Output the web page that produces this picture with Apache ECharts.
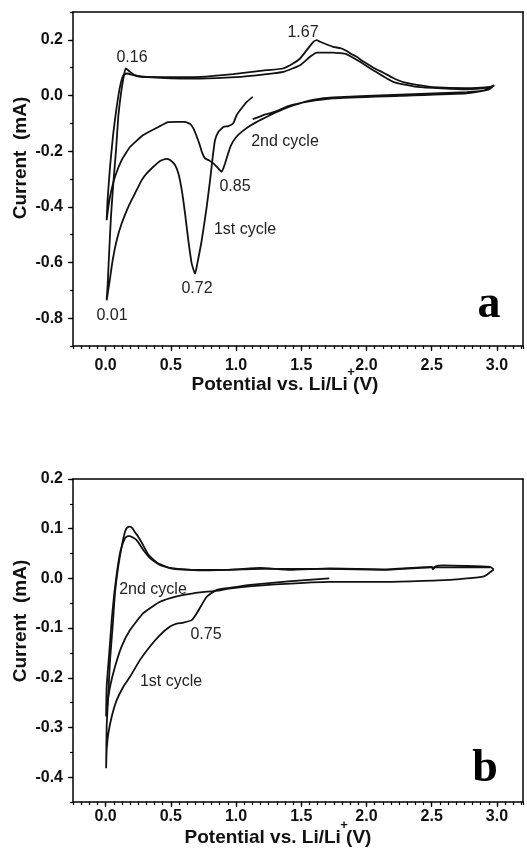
<!DOCTYPE html>
<html><head><meta charset="utf-8">
<script src="https://cdn.jsdelivr.net/npm/echarts@6/dist/echarts.min.js"></script>
<style>html,body{margin:0;padding:0;background:#fff}#c{width:527px;height:848px}</style>
</head><body><div id="c"></div>
<script>
// Panel a: potential (V), current (mA)
const cycleA1 = [[1.128,-0.005],[1.082,-0.023],[1.044,-0.045],[1.005,-0.070],[0.979,-0.100],[0.941,-0.110],[0.903,-0.113],[0.864,-0.131],[0.839,-0.160],[0.821,-0.221],[0.801,-0.304],[0.775,-0.400],[0.737,-0.520],[0.703,-0.604],[0.686,-0.640],[0.660,-0.604],[0.634,-0.520],[0.609,-0.424],[0.584,-0.340],[0.558,-0.280],[0.532,-0.250],[0.494,-0.232],[0.463,-0.228],[0.417,-0.235],[0.366,-0.256],[0.315,-0.280],[0.277,-0.304],[0.225,-0.352],[0.174,-0.400],[0.123,-0.460],[0.085,-0.520],[0.054,-0.592],[0.028,-0.676],[0.008,-0.736],
[0.016,-0.676],[0.028,-0.556],[0.041,-0.436],[0.059,-0.316],[0.080,-0.196],[0.097,-0.077],[0.118,0.008],[0.136,0.061],[0.154,0.097],[0.187,0.085],[0.225,0.073],[0.277,0.067],[0.5,0.066],[0.724,0.067],[0.977,0.077],[1.235,0.091],[1.360,0.097],[1.437,0.115],[1.491,0.133],[1.542,0.163],[1.593,0.193],[1.619,0.199],[1.644,0.193],[1.744,0.175],[1.80,0.170],[1.849,0.160],[1.88,0.150],[1.926,0.139],[1.96,0.127],[2.002,0.115],[2.06,0.098],[2.130,0.082],[2.2,0.064],[2.258,0.052],[2.3,0.046],[2.386,0.038],[2.511,0.030],[2.769,0.026],[2.933,0.030],[2.97,0.034]];
const cycleA2 = [[2.97,0.034],[2.90,0.018],[2.769,0.012],[2.258,0.003],[1.744,-0.007],[1.6,-0.015],[1.49,-0.028],[1.40,-0.042],[1.30,-0.062],[1.20,-0.085],[1.12,-0.105],[1.05,-0.128],[1.0,-0.15],[0.96,-0.18],[0.935,-0.215],[0.915,-0.245],[0.90,-0.265],[0.89,-0.274],[0.875,-0.268],[0.86,-0.260],[0.826,-0.244],[0.788,-0.232],[0.762,-0.226],[0.74,-0.205],[0.72,-0.175],[0.70,-0.149],[0.675,-0.12],[0.65,-0.103],[0.609,-0.095],[0.545,-0.095],[0.479,-0.096],[0.417,-0.110],[0.289,-0.142],[0.187,-0.185],[0.123,-0.232],[0.072,-0.292],[0.039,-0.352],[0.021,-0.400],[0.008,-0.448],
[0.015,-0.376],[0.034,-0.256],[0.059,-0.135],[0.085,-0.041],[0.110,0.031],[0.136,0.073],[0.162,0.079],[0.238,0.070],[0.5,0.062],[0.724,0.061],[1.0,0.066],[1.235,0.077],[1.363,0.085],[1.491,0.109],[1.567,0.139],[1.619,0.154],[1.744,0.154],[1.849,0.148],[1.951,0.121],[2.051,0.091],[2.204,0.049],[2.386,0.031],[2.769,0.022],[2.948,0.030],[2.98,0.037],
[2.93,0.020],[2.769,0.008],[2.258,-0.001],[1.744,-0.010],[1.55,-0.022],[1.40,-0.038],[1.30,-0.058],[1.20,-0.072],[1.128,-0.085]];
// Panel b
const cycleB1 = [[1.715,0.000],[1.40,-0.006],[1.109,-0.013],[0.95,-0.019],[0.852,-0.023],[0.775,-0.037],[0.699,-0.070],[0.660,-0.084],[0.596,-0.089],[0.545,-0.091],[0.494,-0.097],[0.417,-0.114],[0.340,-0.137],[0.264,-0.164],[0.187,-0.198],[0.136,-0.218],[0.085,-0.245],[0.047,-0.278],[0.021,-0.312],[0.008,-0.345],[0.004,-0.382],
[0.008,-0.298],[0.021,-0.231],[0.034,-0.164],[0.054,-0.097],[0.072,-0.029],[0.097,0.024],[0.123,0.064],[0.149,0.094],[0.165,0.102],[0.187,0.104],[0.205,0.101],[0.225,0.093],[0.250,0.084],[0.277,0.072],[0.327,0.048],[0.392,0.032],[0.494,0.021],[0.673,0.017],[0.929,0.017],[1.184,0.021],[1.414,0.017],[1.720,0.020],[2.130,0.018],[2.50,0.023],[2.51,0.018],[2.53,0.024],[2.590,0.026],[2.948,0.023],[2.975,0.018]];
const cycleB2 = [[2.975,0.018],[2.90,0.004],[2.641,-0.003],[2.130,-0.007],[1.72,-0.007],[1.3,-0.012],[1.1,-0.016],[0.93,-0.021],[0.877,-0.024],[0.673,-0.030],[0.545,-0.036],[0.417,-0.047],[0.289,-0.070],[0.187,-0.104],[0.123,-0.137],[0.072,-0.178],[0.034,-0.218],[0.015,-0.250],[0.004,-0.278],
[0.008,-0.218],[0.028,-0.150],[0.047,-0.083],[0.067,-0.029],[0.090,0.018],[0.116,0.057],[0.149,0.081],[0.170,0.085],[0.187,0.085],[0.238,0.077],[0.289,0.057],[0.340,0.041],[0.417,0.027],[0.519,0.019],[0.75,0.016],[1.2,0.019],[1.7,0.019],[2.13,0.017],[2.5,0.022],[2.95,0.022]];

const xTicks = [0, 0.5, 1.0, 1.5, 2.0, 2.5, 3.0];
const yTicksA = [-0.8, -0.6, -0.4, -0.2, 0.0, 0.2];
const yTicksB = [-0.4, -0.3, -0.2, -0.1, 0.0, 0.1, 0.2];

const SANS = 'Liberation Sans, Arial, sans-serif';
const lineC = '#000';
const tickLbl = {fontSize:16, fontWeight:'bold', fontFamily:SANS, color:'#111'};

function xAxes(grid, labelMargin){
  return [
    {gridIndex:grid, type:'value', min:-0.25, max:3.2, position:'bottom',
     axisLine:{show:true, onZero:false, lineStyle:{color:lineC, width:1.5}},
     axisTick:{show:true, customValues:xTicks, length:5, lineStyle:{color:lineC, width:1.3}},
     axisLabel:{show:true, customValues:xTicks, margin:labelMargin, formatter:v=>v.toFixed(1), ...tickLbl},
     splitLine:{show:false}},
    {gridIndex:grid, type:'value', min:-0.25, max:3.2, interval:0.0625, position:'bottom',
     axisLine:{show:false, onZero:false}, axisTick:{show:true, length:3, lineStyle:{color:lineC, width:1.2}},
     axisLabel:{show:false}, splitLine:{show:false}},
    {gridIndex:grid, type:'value', min:-0.25, max:3.2, position:'top',
     axisLine:{show:true, onZero:false, lineStyle:{color:lineC, width:1.5}}, axisTick:{show:false},
     axisLabel:{show:false}, splitLine:{show:false}}
  ];
}
function yAxes(grid, min, max, majors, minorInt){
  return [
    {gridIndex:grid, type:'value', min:min, max:max, position:'left',
     axisLine:{show:true, onZero:false, lineStyle:{color:lineC, width:1.5}},
     axisTick:{show:true, customValues:majors, length:5, lineStyle:{color:lineC, width:1.3}},
     axisLabel:{show:true, customValues:majors, margin:10, formatter:v=>(Math.abs(v)<1e-9?0:v).toFixed(1), ...tickLbl},
     splitLine:{show:false}},
    {gridIndex:grid, type:'value', min:min, max:max, interval:minorInt, position:'left',
     axisLine:{show:false, onZero:false}, axisTick:{show:true, length:3, lineStyle:{color:lineC, width:1.2}},
     axisLabel:{show:false}, splitLine:{show:false}},
    {gridIndex:grid, type:'value', min:min, max:max, position:'right',
     axisLine:{show:true, onZero:false, lineStyle:{color:lineC, width:1.5}}, axisTick:{show:false},
     axisLabel:{show:false}, splitLine:{show:false}}
  ];
}

function cv(data, xi, yi){
  return {type:'line', xAxisIndex:xi, yAxisIndex:yi, data:data, showSymbol:false, symbol:'none',
    smooth:0.15, lineStyle:{color:'#111', width:1.8}, silent:true, z:3};
}

function txt(x, y, s, size){
  return {type:'text', x:x, y:y, silent:true,
    style:{text:s, fontSize:size||16, fontFamily:SANS, fill:'#222', align:'center', verticalAlign:'middle'}};
}
function xName(x, y){
  return {type:'group', children:[
    {type:'text', x:x, y:y, silent:true,
     style:{text:'Potential vs. Li/Li (V)', fontSize:19, fontWeight:'bold', fontFamily:SANS, fill:'#111', align:'center', verticalAlign:'middle'}},
    {type:'text', x:x+66, y:y-13, silent:true,
     style:{text:'+', fontSize:13, fontWeight:'bold', fontFamily:SANS, fill:'#111', align:'center', verticalAlign:'middle'}}
  ]};
}
function yName(x, y){
  return {type:'text', x:x, y:y, rotation:Math.PI/2, silent:true,
    style:{text:'Current  (mA)', fontSize:19, fontWeight:'bold', fontFamily:SANS, fill:'#111', align:'center', verticalAlign:'middle'}};
}
function panelLetter(x, y, s){
  return {type:'text', x:x, y:y, silent:true,
    style:{text:s, fontSize:46, fontWeight:'bold', fontFamily:'Liberation Serif, Times New Roman, serif', fill:'#000', align:'center', verticalAlign:'middle'}};
}

const chart = echarts.init(document.getElementById('c'), null, {renderer:'canvas'});
chart.setOption({
  animation:false,
  backgroundColor:'#fff',
  grid:[{left:73, right:4, top:12, bottom:502}, {left:73, right:4, top:479, bottom:46}],
  xAxis:[...xAxes(0, 12), ...xAxes(1, 7)],
  yAxis:[...yAxes(0, -0.9, 0.3, yTicksA, 0.1), ...yAxes(1, -0.45, 0.2, yTicksB, 0.05)],
  series:[cv(cycleA1,0,0), cv(cycleA2,0,0), cv(cycleB1,3,3), cv(cycleB2,3,3)],
  graphic:[
    txt(132,58,'0.16'), txt(303,33,'1.67'), txt(235,187,'0.85'), txt(285,142,'2nd cycle'),
    txt(245,230,'1st cycle'), txt(197,289,'0.72'), txt(112,316,'0.01'),
    txt(153,590,'2nd cycle'), txt(206,635,'0.75'), txt(171,682,'1st cycle'),
    xName(285,385), xName(278,838), yName(21,158), yName(21,621),
    panelLetter(489,305,'a'), panelLetter(485,769,'b')
  ]
});
</script></body></html>
